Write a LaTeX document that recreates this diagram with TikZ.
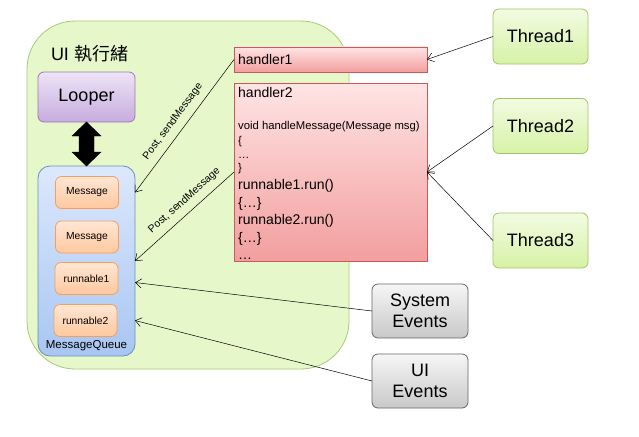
\documentclass[tikz,border=0pt]{standalone}
\usepackage{fontspec}
\setmainfont{Liberation Sans}
\newfontfamily\cjk{Noto Sans CJK TC}
\usetikzlibrary{arrows.meta,calc}
\definecolor{uifill}{HTML}{E6F8CA}
\definecolor{uiborder}{HTML}{A8C878}
\definecolor{grtop}{HTML}{F2FBE2}
\definecolor{grbot}{HTML}{D6F2A6}
\definecolor{grborder}{HTML}{A4C266}
\definecolor{putop}{HTML}{ECE4F6}
\definecolor{pubot}{HTML}{C8ACDF}
\definecolor{puborder}{HTML}{9A7AB0}
\definecolor{bltop}{HTML}{DCE8FC}
\definecolor{blbot}{HTML}{A8C6F2}
\definecolor{blborder}{HTML}{6C8EBF}
\definecolor{ortop}{HTML}{FFE6D4}
\definecolor{orbot}{HTML}{FFC89E}
\definecolor{orborder}{HTML}{F2A060}
\definecolor{rdtop}{HTML}{FFE4E4}
\definecolor{rdbot}{HTML}{F29E9E}
\definecolor{rdborder}{HTML}{C85A5A}
\definecolor{gytop}{HTML}{F6F6F6}
\definecolor{gybot}{HTML}{C8C8C8}
\definecolor{gyborder}{HTML}{666666}
\tikzset{
  every node/.style={inner sep=0pt, outer sep=0pt},
  rbox/.style={draw, rounded corners=6pt, line width=0.8pt, align=center},
  threadbox/.style={rbox, draw=grborder, top color=grtop, bottom color=grbot,
    minimum width=95pt, minimum height=55pt, font=\fontsize{18}{21}\selectfont},
  eventbox/.style={rbox, draw=gyborder, top color=gytop, bottom color=gybot,
    minimum width=96pt, minimum height=54pt, font=\fontsize{18}{21}\selectfont},
  msgbox/.style={rbox, draw=orborder, top color=ortop, bottom color=orbot,
    minimum width=63pt, minimum height=32pt, font=\fontsize{10.3}{12}\selectfont},
  hbox/.style={draw=rdborder, line width=0.8pt, top color=rdtop, bottom color=rdbot},
  conn/.style={-{Straight Barb[length=6pt,width=9pt]}, line width=0.5pt},
  lbl/.style={font=\fontsize{10.5}{12}\selectfont, sloped, above=6pt, inner sep=1pt},
}
\begin{document}
\begin{tikzpicture}[x=1pt,y=-1pt]
\useasboundingbox (0,0) rectangle (639,436);
% UI thread container
\node[draw=uiborder, fill=uifill, line width=0.8pt, rounded corners=48pt,
  minimum width=322pt, minimum height=348pt] (ui) at (188,195) {};
\node[anchor=base west, font=\fontsize{18}{20}\selectfont] (uilbl) at (51,60) {UI {\cjk 執行緒}};
% Looper
\node[rbox, draw=puborder, top color=putop, bottom color=pubot,
  minimum width=97pt, minimum height=50pt, font=\fontsize{18}{21}\selectfont] (lp) at (86.5,97) {Looper};
% Message queue
\node[rbox, rounded corners=12pt, draw=blborder, top color=bltop, bottom color=blbot,
  minimum width=97pt, minimum height=190pt] (mq) at (86.5,261) {};
\node[anchor=base, font=\fontsize{11.5}{13}\selectfont] (mqlbl) at (86.5,348) {MessageQueue};
\node[msgbox] (m1) at (87,192.5) {Message};
\node[msgbox] (m2) at (87,237) {Message};
\node[msgbox] (r1) at (86.5,278.5) {runnable1};
\node[msgbox] (r2) at (85.5,320.5) {runnable2};
% double arrow
\draw[fill=black] (lp.south) -- ++(14.5,14) -- ++(-7,0) -- ++(0,16) -- ++(7,0)
  -- (mq.north) -- ++(-14.5,-14) -- ++(7,0) -- ++(0,-16) -- ++(-7,0) -- cycle;
% handlers
\node[hbox, minimum width=193pt, minimum height=25pt] (h1) at (330.5,59.5) {};
\node[anchor=base west, font=\fontsize{14}{16}\selectfont] (h1t) at (238,64.5) {handler1};
\node[hbox, minimum width=193pt, minimum height=178pt] (h2) at (330.5,172) {};
\begin{scope}[every node/.style={anchor=base west, inner sep=0pt}]
\node[font=\fontsize{14}{16}\selectfont] (t1) at (238,97) {handler2};
\node[font=\fontsize{11.3}{13}\selectfont] (t2) at (238,129) {void handleMessage(Message msg)};
\node[font=\fontsize{11.3}{13}\selectfont] (t3) at (238,144) {\{};
\node[font=\fontsize{11.3}{13}\selectfont] (t4) at (238,158) {\ldots};
\node[font=\fontsize{11.3}{13}\selectfont] (t5) at (238,171) {\}};
\node[font=\fontsize{14}{16}\selectfont] (t6) at (238,189) {runnable1.run()};
\node[font=\fontsize{14}{16}\selectfont] (t7) at (238,207) {\{\ldots\}};
\node[font=\fontsize{14}{16}\selectfont] (t8) at (238,224) {runnable2.run()};
\node[font=\fontsize{14}{16}\selectfont] (t9) at (238,242) {\{\ldots\}};
\node[font=\fontsize{14}{16}\selectfont] (t10) at (238,259) {\ldots};
\end{scope}
% threads
\node[threadbox] (th1) at (540.5,36.5) {Thread1};
\node[threadbox] (th2) at (540.5,126) {Thread2};
\node[threadbox] (th3) at (540.5,240.5) {Thread3};
% events
\node[eventbox] (se) at (420,311) {System\\Events};
\node[eventbox] (ue) at (420,381) {UI\\Events};
% connectors
\draw[conn] (h1.west) -- node[lbl, pos=0.52] {Post, sendMessage} (mq.east |- m1);
\draw[conn] (h2.west) -- node[lbl, pos=0.42] {Post, sendMessage} (mq.east);
\draw[conn] (th1.west) -- (h1.east);
\draw[conn] (th2.west) -- (h2.east);
\draw[conn] (th3.west) -- (h2.east);
\draw[conn] (se.west) -- ($(mq.east |- r1)+(0,4)$);
\draw[conn] (ue.west) -- (mq.east |- r2);
\end{tikzpicture}
\end{document}
